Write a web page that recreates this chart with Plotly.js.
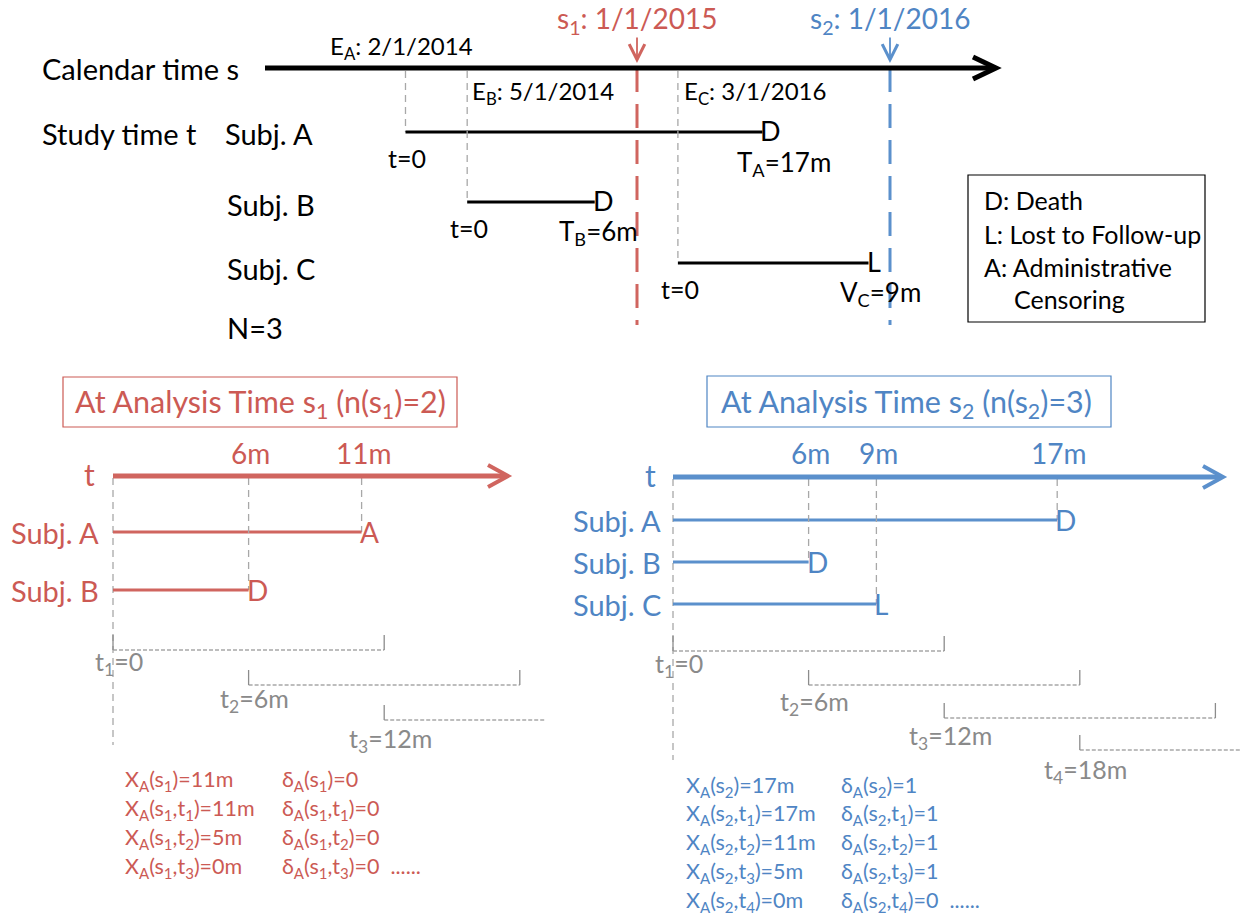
<!DOCTYPE html>
<html><head><meta charset="utf-8">
<script src="https://cdn.plot.ly/plotly-3.0.1.min.js"></script>
<style>html,body{margin:0;padding:0;background:#fff}</style>
</head><body><div id="chart" style="width:1245px;height:918px"></div>
<script>
// ================= DATA =================
const subjects = ['Subj. A', 'Subj. B', 'Subj. C'];
const entryDates = ['2014-02-01', '2014-05-01', '2015-03-01'];   // drawn positions on the calendar line
const entryLabels = ['E<sub>A</sub>: 2/1/2014', 'E<sub>B</sub>: 5/1/2014', 'E<sub>C</sub>: 3/1/2016'];
const followMonths = [17, 6, 9];
const eventCodes = ['D', 'D', 'L'];
const outcomeLabels = ['T<sub>A</sub>=17m', 'T<sub>B</sub>=6m', 'V<sub>C</sub>=9m'];
const sampleSize = 'N=3';
const analysisDates = ['2015-01-01', '2016-01-01'];
const analysisLabels = ['s<sub>1</sub>: 1/1/2015', 's<sub>2</sub>: 1/1/2016'];
const legendLines = ['D: Death', 'L: Lost to Follow-up', 'A: Administrative', 'Censoring'];

// analysis at s1
const s1Title = 'At Analysis Time s<sub>1</sub> (n(s<sub>1</sub>)=2)';
const s1Subjects = ['Subj. A', 'Subj. B'];
const s1Months = [11, 6];
const s1Codes = ['A', 'D'];
const s1WindowStarts = [0, 6, 12];
const s1Xvalues = [11, 11, 5, 0];
const s1Deltas = [0, 0, 0, 0];
// analysis at s2
const s2Title = 'At Analysis Time s<sub>2</sub> (n(s<sub>2</sub>)=3)';
const s2Subjects = ['Subj. A', 'Subj. B', 'Subj. C'];
const s2Months = [17, 6, 9];
const s2Codes = ['D', 'D', 'L'];
const s2WindowStarts = [0, 6, 12, 18];
const s2Xvalues = [17, 17, 11, 5, 0];
const s2Deltas = [1, 1, 1, 1, 0];
const windowLength = 12;

// ================= STYLE / LAYOUT =================
const W = 1245, H = 918, DAY = 86400000;
const FONT = 'Lato, "Open Sans", sans-serif';
const RED = '#CC5A54', REDL = '#D0655F';
const BLUE = '#4F85C4', BLUEL = '#5B90CC';
const GREY = '#A8A8A8', GREYT = '#8A8A8A';

function addMonths(d, m) {
  const [y, mo, dd] = d.split('-').map(Number);
  return new Date(Date.UTC(y, mo - 1 + m, dd)).toISOString().slice(0, 10);
}
// calendar scale (s1 drawn at 637px, s2 at 890px)
const calRef = Date.UTC(2015, 0, 1), calRefPx = 637, calPxPerDay = (890 - 637) / 365;
const calRange = [calRef - calRefPx / calPxPerDay * DAY, calRef + (W - calRefPx) / calPxPerDay * DAY];
const monthPx = 22.6;
const leftOrigin = 113, rightOrigin = 673;
const leftRange = [-leftOrigin / monthPx, (W - leftOrigin) / monthPx];
const rightRange = [-rightOrigin / monthPx, (W - rightOrigin) / monthPx];
const leftOpenEnd = (545 - leftOrigin) / monthPx, rightOpenEnd = (1240 - rightOrigin) / monthPx;

const calY = 68, topRows = [132, 202, 263];
const leftAxisY = 476, leftRows = [532, 590];
const rightAxisY = 477, rightRows = [520, 562, 604];
const leftBrY = [650, 685, 720], rightBrY = [651, 685, 718, 750];

const traces = [], shapes = [], ann = [];
function line(xa, xs, ys, color, width, dash) {
  traces.push({x: xs, y: ys, xaxis: xa, yaxis: 'y', mode: 'lines', hoverinfo: 'skip', showlegend: false,
    line: {color: color, width: width, dash: dash || 'solid'}});
}
function txt(xref, x, y, text, size, color, xanchor, xshift) {
  ann.push({xref: xref, yref: 'y', x: x, y: y, text: text, showarrow: false, borderpad: 0,
    font: {family: FONT, size: size, color: color}, xanchor: xanchor || 'center', yanchor: 'middle', xshift: xshift || 0});
}
function pxShape(o) { o.xref = 'x'; o.yref = 'y'; shapes.push(o); }
function chevron(xTip, y, color, w, back, half) {
  pxShape({type: 'path', path: `M${xTip - back},${y - half} L${xTip},${y} L${xTip - back},${y + half}`,
    line: {color: color, width: w}});
}

// ---------- top: calendar time ----------
txt('x', 41, calY, 'Calendar time s', 29, '#000', 'left');
pxShape({type: 'line', x0: 265, x1: 994, y0: calY, y1: calY, line: {color: '#000', width: 5}});
chevron(996, calY, '#000', 5, 23, 11);
const sCols = [RED, BLUE], sLines = [REDL, BLUEL];
analysisDates.forEach((d, i) => {
  txt('x2', d, 20, analysisLabels[i], 28, sCols[i], 'center');
  ann.push({xref: 'x2', yref: 'y', x: d, y: calY - 5, ax: 0, ay: -27, text: '', showarrow: true,
    arrowhead: 5, arrowsize: 1.7, arrowwidth: 1.8, arrowcolor: sLines[i]});
  line('x2', [d, d], [calY, 325], sLines[i], 3, '24px,12px');
});
txt('x', 41, 133, 'Study time t', 29, '#000', 'left');
const subjLabelX = [224, 226, 226], subjLabelY = [133, 204, 268];
subjects.forEach((s, i) => txt('x', subjLabelX[i], subjLabelY[i], s, 29, '#000', 'left'));
txt('x', 226, 327, sampleSize, 29, '#000', 'left');
const entryLabelY = [47, 92, 92], entryAnchor = ['center', 'left', 'left'], entryShift = [-4, 4, 5];
const outShift = [22, 4, 12], outDy = [31, 30, 30];
entryDates.forEach((d, i) => {
  const end = addMonths(d, followMonths[i]);
  line('x2', [d, d], [calY + 3, topRows[i]], GREY, 1.3, '7px,5px');
  line('x2', [d, end], [topRows[i], topRows[i]], '#000', 3);
  txt('x2', d, entryLabelY[i], entryLabels[i], 24, '#000', entryAnchor[i], entryShift[i]);
  txt('x2', d, topRows[i] + 26, 't=0', 25, '#000', 'center', 2);
  txt('x2', end, topRows[i] - 2, eventCodes[i], 27, '#000', 'left', -3);
  txt('x2', end, topRows[i] + outDy[i], outcomeLabels[i], 26, '#000', 'center', outShift[i]);
});
// legend box
pxShape({type: 'rect', x0: 968, x1: 1205, y0: 175, y1: 322, line: {color: '#000', width: 1.2}});
const legX = [983, 983, 983, 1013], legY = [200, 234, 267, 299];
legendLines.forEach((t, i) => txt('x', legX[i], legY[i], t, 25, '#000', 'left'));

// ---------- bottom panels ----------
function panel(cfg) {
  const xa = cfg.xa;
  pxShape({type: 'rect', x0: cfg.box[0], x1: cfg.box[1], y0: cfg.box[2], y1: cfg.box[3], line: {color: cfg.col, width: 1.2}});
  txt('x', cfg.titleX, 403, cfg.title, 30.5, cfg.col, 'left');
  txt('x', cfg.tX, cfg.axisY - 2, 't', 30, cfg.col, 'center');
  pxShape({type: 'line', x0: cfg.origin, x1: cfg.axisEnd - 3, y0: cfg.axisY, y1: cfg.axisY, line: {color: cfg.lcol, width: 5}});
  chevron(cfg.axisEnd, cfg.axisY, cfg.lcol, 4, 20, 11);
  line(xa, [0, 0], [cfg.axisY + 2, cfg.zeroEnd], GREY, 1.3, '7px,5px');
  cfg.months.forEach((m, i) => {
    const ry = cfg.rows[i];
    line(xa, [m, m], [cfg.axisY + 2, ry], GREY, 1.3, '7px,5px');
    line(xa, [0, m], [ry, ry], cfg.lcol, 3);
    txt(xa, m, ry, cfg.codes[i], 28, cfg.col, 'left', -3);
    txt(xa, m, 453, m + 'm', 28, cfg.col, 'center', 2);
    txt('x', cfg.subjRight, ry, cfg.subjects[i], 29, cfg.col, 'right');
  });
  cfg.windows.forEach((w, i) => {
    const yb = cfg.brY[i];
    const e = Math.min(w + windowLength, cfg.openEnd);
    line(xa, [w, e], [yb, yb], GREY, 1.4, '4px,2px');
    line(xa, [w, w], [yb - 15, yb], '#8C8C8C', 1.3);
    if (w + windowLength <= cfg.openEnd) line(xa, [w + windowLength, w + windowLength], [yb - 15, yb], '#8C8C8C', 1.3);
    const lab = 't<sub>' + (i + 1) + '</sub>=' + (w === 0 ? '0' : w + 'm');
    txt(xa, w, yb + cfg.labDy[i], lab, 25, GREYT, 'center', 6);
  });
  const sIdx = cfg.sIdx;
  cfg.xv.forEach((v, i) => {
    const arg = i === 0 ? '(s<sub>' + sIdx + '</sub>)' : '(s<sub>' + sIdx + '</sub>,t<sub>' + i + '</sub>)';
    const y = cfg.fY0 + i * cfg.fDy;
    txt('x', cfg.fX[0], y, 'X<sub>A</sub>' + arg + '=' + v + 'm', 21.5, cfg.col, 'left');
    let dt = 'δ<sub>A</sub>' + arg + '=' + cfg.dv[i];
    if (i === cfg.xv.length - 1) dt += '  ......';
    txt('x', cfg.fX[1], y, dt, 21.5, cfg.col, 'left');
  });
}
panel({xa: 'x3', col: RED, lcol: REDL, box: [63, 457, 377, 427], titleX: 74, title: s1Title, tX: 89,
  origin: leftOrigin, axisEnd: 508, axisY: leftAxisY, zeroEnd: 745, months: s1Months, rows: leftRows,
  codes: s1Codes, subjects: s1Subjects, subjRight: 100, windows: s1WindowStarts, brY: leftBrY,
  openEnd: leftOpenEnd, labDy: [13, 15, 20], sIdx: 1, xv: s1Xvalues, dv: s1Deltas, fX: [124, 281], fY0: 780, fDy: 29.3});
panel({xa: 'x4', col: BLUE, lcol: BLUEL, box: [707, 1111, 376, 427], titleX: 720, title: s2Title, tX: 650,
  origin: rightOrigin, axisEnd: 1223, axisY: rightAxisY, zeroEnd: 760, months: s2Months, rows: rightRows,
  codes: s2Codes, subjects: s2Subjects, subjRight: 662, windows: s2WindowStarts, brY: rightBrY,
  openEnd: rightOpenEnd, labDy: [14, 18, 19, 21], sIdx: 2, xv: s2Xvalues, dv: s2Deltas, fX: [685, 840], fY0: 786, fDy: 28.8});

const hid = {visible: false, showgrid: false, zeroline: false, fixedrange: true};
const layout = {
  width: W, height: H, margin: {l: 0, r: 0, t: 0, b: 0}, paper_bgcolor: '#fff', plot_bgcolor: '#fff',
  showlegend: false,
  xaxis: Object.assign({range: [0, W], domain: [0, 1]}, hid),
  xaxis2: Object.assign({type: 'date', range: calRange, overlaying: 'x', anchor: 'y'}, hid),
  xaxis3: Object.assign({range: leftRange, overlaying: 'x', anchor: 'y'}, hid),
  xaxis4: Object.assign({range: rightRange, overlaying: 'x', anchor: 'y'}, hid),
  yaxis: Object.assign({range: [H, 0], domain: [0, 1]}, hid),
  shapes: shapes, annotations: ann
};
Plotly.newPlot('chart', traces, layout, {staticPlot: true, displayModeBar: false});
</script></body></html>
